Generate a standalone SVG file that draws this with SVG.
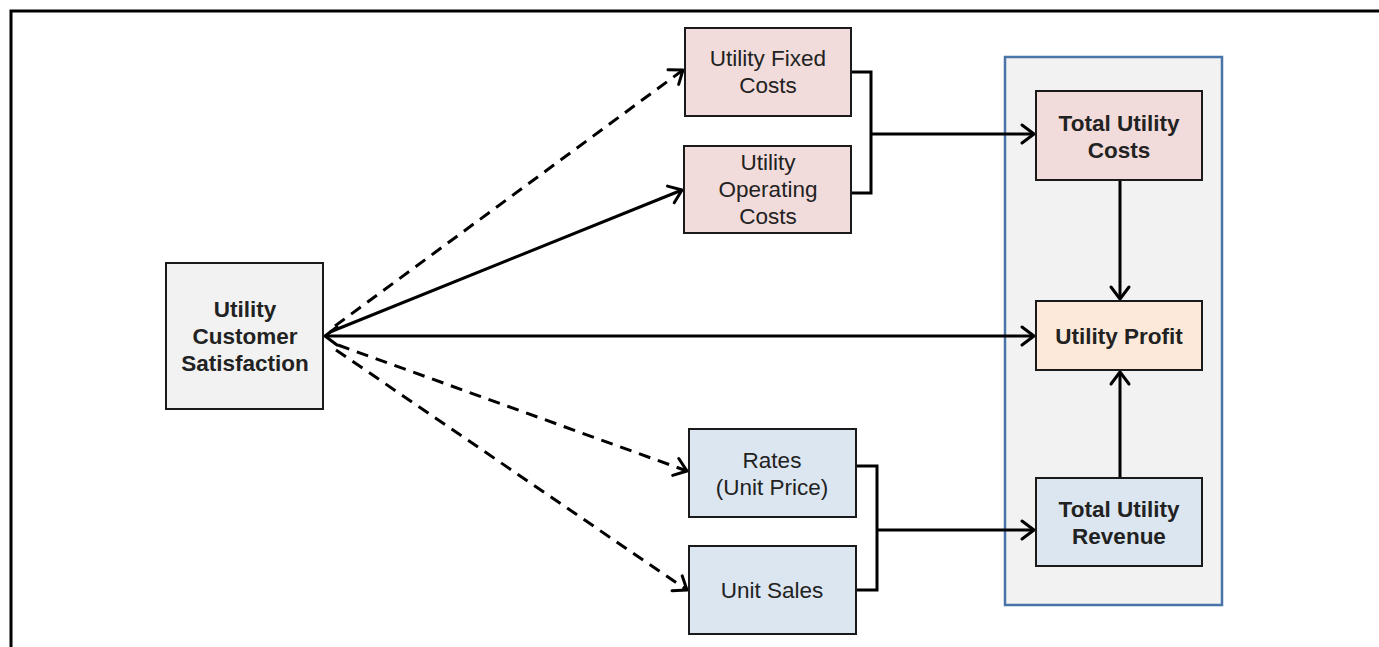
<svg xmlns="http://www.w3.org/2000/svg" width="1379" height="647" viewBox="0 0 1379 647">
<style>
.box{stroke:#1a1a1a;stroke-width:2}
.t{font-family:"Liberation Sans",Arial,sans-serif;font-size:22.5px;fill:#222;text-anchor:middle}
.b{font-weight:bold}
.c{fill:none;stroke:#000;stroke-width:3}
.d{stroke-dasharray:12 8}
</style>
<defs>
<marker id="ah" markerUnits="userSpaceOnUse" markerWidth="24" markerHeight="24" refX="16" refY="12" orient="auto-start-reverse" viewBox="0 0 24 24">
<path d="M4,3 L16,12 L4,21" fill="none" stroke="#000" stroke-width="3" stroke-linecap="round" stroke-linejoin="round"/>
</marker>
</defs>
<rect width="1379" height="647" fill="#fff"/>
<path d="M11,647 V11 H1379" fill="none" stroke="#000" stroke-width="3"/>
<g id="container"><rect x="1005" y="57" width="217" height="548" fill="#f2f2f2" stroke="#4a74a8" stroke-width="2.5"/></g>
<g id="connectors">
<line class="c d" x1="335" y1="326" x2="683" y2="70" marker-end="url(#ah)"/>
<line class="c" x1="330" y1="332" x2="682" y2="190" marker-end="url(#ah)"/>
<line class="c" x1="325" y1="336" x2="1034" y2="336" marker-start="url(#ah)" marker-end="url(#ah)"/>
<line class="c d" x1="338" y1="345" x2="687" y2="471" marker-end="url(#ah)"/>
<line class="c d" x1="336" y1="350" x2="687" y2="590" marker-end="url(#ah)"/>
<path class="c" d="M851,72 H871 V193 H851"/>
<line class="c" x1="871" y1="134" x2="1034" y2="134" marker-end="url(#ah)"/>
<path class="c" d="M856,466 H877 V590 H856"/>
<line class="c" x1="877" y1="530" x2="1034" y2="530" marker-end="url(#ah)"/>
<line class="c" x1="1120" y1="180" x2="1120" y2="299" marker-end="url(#ah)"/>
<line class="c" x1="1120" y1="478" x2="1120" y2="372" marker-end="url(#ah)"/>
</g>
<g id="satisfaction"><rect class="box" x="166" y="263" width="157" height="146" fill="#f2f2f2"/>
<text class="t b" x="245" y="317">Utility</text><text class="t b" x="245" y="344">Customer</text><text class="t b" x="245" y="371">Satisfaction</text></g>
<g id="fixed"><rect class="box" x="685" y="28" width="166" height="88" fill="#f2dcdb"/>
<text class="t" x="768" y="66">Utility Fixed</text><text class="t" x="768" y="93">Costs</text></g>
<g id="operating"><rect class="box" x="684" y="146" width="167" height="87" fill="#f2dcdb"/>
<text class="t" x="768" y="170">Utility</text><text class="t" x="768" y="197">Operating</text><text class="t" x="768" y="224">Costs</text></g>
<g id="totalcosts"><rect class="box" x="1036" y="91" width="166" height="89" fill="#f2dcdb"/>
<text class="t b" x="1119" y="131">Total Utility</text><text class="t b" x="1119" y="158">Costs</text></g>
<g id="profit"><rect class="box" x="1036" y="301" width="166" height="69" fill="#fde9d9"/>
<text class="t b" x="1119" y="344">Utility Profit</text></g>
<g id="revenue"><rect class="box" x="1036" y="478" width="166" height="88" fill="#dce6f1"/>
<text class="t b" x="1119" y="517">Total Utility</text><text class="t b" x="1119" y="544">Revenue</text></g>
<g id="rates"><rect class="box" x="689" y="429" width="167" height="88" fill="#dce6f1"/>
<text class="t" x="772" y="468">Rates</text><text class="t" x="772" y="495">(Unit Price)</text></g>
<g id="sales"><rect class="box" x="689" y="546" width="167" height="88" fill="#dce6f1"/>
<text class="t" x="772" y="598">Unit Sales</text></g>
</svg>
